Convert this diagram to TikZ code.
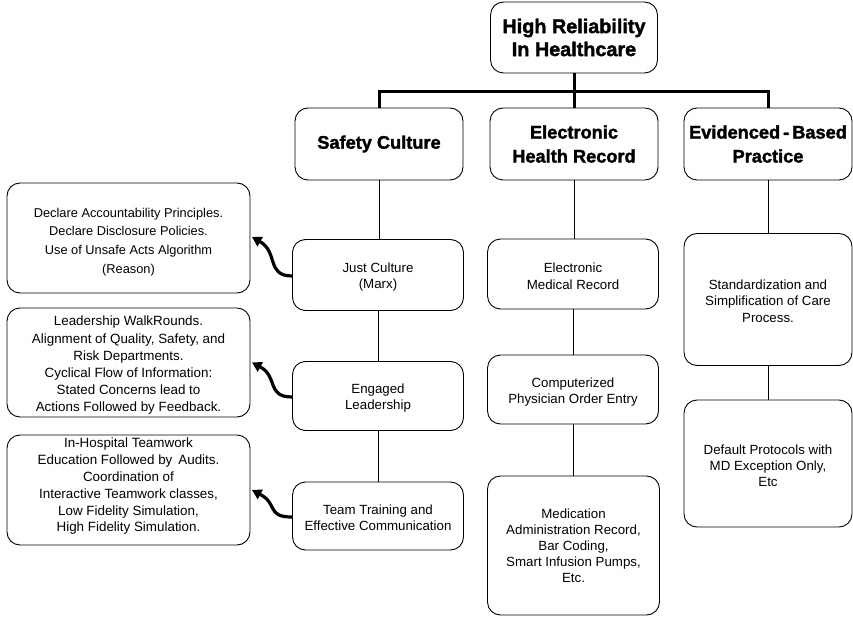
\documentclass[tikz,border=0pt]{standalone}
\usepackage{fontspec}
\setmainfont{Liberation Sans}
\newfontfamily\headfont{Liberation Sans Bold}[FakeBold=1.8]
\usetikzlibrary{arrows.meta,calc}
\begin{document}
\begin{tikzpicture}[x=1pt,y=-1pt,
  box/.style={draw, rounded corners=13pt, line width=0.9pt, inner sep=0pt},
  txt/.style={align=center, inner sep=0pt, font=\fontsize{13.3}{16.5}\selectfont},
  head/.style={box, align=center, font=\fontsize{18.2}{24}\headfont},
  tophead/.style={box, align=center, font=\fontsize{19.8}{23}\headfont},
  tree/.style={line width=3pt},
  link/.style={line width=0.8pt},
  curv/.style={line width=3.2pt, -{Triangle[length=9.5pt,width=10.5pt]}}]
\useasboundingbox (0,0) rectangle (853,617);
% top
\node[tophead, minimum width=167pt, minimum height=71pt] (top) at (574,37.5) {High Reliability\\In Healthcare};
% headings
\node[head, minimum width=168pt, minimum height=72pt] (sc) at (379,144) {Safety Culture};
\node[head, minimum width=168pt, minimum height=72pt] (ehr) at (574,144) {Electronic\\Health Record};
\node[head, minimum width=168pt, minimum height=72pt] (ebp) at (768,144) {Evidenced\,-\,Based\\Practice};
% safety column boxes
\node[box, minimum width=171pt, minimum height=71pt] (jc) at (378,275) {};
\node[box, minimum width=171pt, minimum height=69pt] (el) at (378,396) {};
\node[box, minimum width=171pt, minimum height=68pt] (tt) at (378,516) {};
% left column boxes
\node[box, minimum width=243pt, minimum height=110pt] (l1) at (128.5,238) {};
\node[box, minimum width=243pt, minimum height=109pt] (l2) at (128.5,362.5) {};
\node[box, minimum width=243pt, minimum height=110pt] (l3) at (128.5,490) {};
% EHR column boxes
\node[box, minimum width=171pt, minimum height=70pt] (emr) at (573,274) {};
\node[box, minimum width=171pt, minimum height=69pt] (cpoe) at (573,389.5) {};
\node[box, minimum width=172pt, minimum height=139pt] (med) at (573.5,545.5) {};
% EBP column boxes
\node[box, minimum width=168pt, minimum height=132pt] (std) at (768,299.5) {};
\node[box, minimum width=168pt, minimum height=127pt] (dp) at (768,463.5) {};
% texts
\node[txt] (jct) at (378,277) {Just Culture\\(Marx)};
\node[txt, font=\fontsize{13.3}{16}\selectfont] (elt) at (378,398) {Engaged\\Leadership};
\node[txt, font=\fontsize{13.3}{15.8}\selectfont] (ttt) at (378,518) {Team Training and\\Effective Communication};
\node[txt, font=\fontsize{12.8}{18.8}\selectfont] (l1t) at (128.5,242) {Declare Accountability Principles.\\Declare Disclosure Policies.\\Use of Unsafe Acts Algorithm\\(Reason)};
\node[txt, font=\fontsize{13.4}{17.2}\selectfont] (l2t) at (128.5,365.5) {Leadership WalkRounds.\\Alignment of Quality, Safety, and\\Risk Departments.\\Cyclical Flow of Information:\\Stated Concerns lead to\\Actions Followed by Feedback.};
\node[txt, font=\fontsize{13.4}{16.8}\selectfont] (l3t) at (128.5,486.5) {In-Hospital Teamwork\\Education Followed by\, Audits.\\Coordination of\\Interactive Teamwork classes,\\Low Fidelity Simulation,\\High Fidelity Simulation.};
\node[txt, font=\fontsize{13.3}{16.7}\selectfont] (emrt) at (573,276) {Electronic\\Medical Record};
\node[txt, font=\fontsize{13.3}{15.5}\selectfont] (cpoet) at (573,392) {Computerized\\Physician Order Entry};
\node[txt, font=\fontsize{13.3}{16}\selectfont] (medt) at (573.5,546) {Medication\\Administration Record,\\Bar Coding,\\Smart Infusion Pumps,\\Etc.};
\node[txt, font=\fontsize{13.3}{16.7}\selectfont] (stdt) at (768,301) {Standardization and\\Simplification of Care\\Process.};
\node[txt, font=\fontsize{13.3}{16}\selectfont] (dpt) at (768,466) {Default Protocols with\\MD Exception Only,\\Etc};
% tree
\coordinate (bus) at (0,92);
\draw[tree] (top.south) -- (top.south |- bus);
\draw[tree] (sc.north) -- (sc.north |- bus) -- (ebp.north |- bus) -- (ebp.north);
\draw[tree] (ehr.north) -- (ehr.north |- bus);
% thin links
\draw[link] (sc.south) -- (sc.south |- jc.north);
\draw[link] (jc.south) -- (jc.south |- el.north);
\draw[link] (el.south) -- (el.south |- tt.north);
\draw[link] (ehr.south) -- (ehr.south |- emr.north);
\draw[link] (emr.south) -- (emr.south |- cpoe.north);
\draw[link] (cpoe.south) -- (cpoe.south |- med.north);
\draw[link] (ebp.south) -- (ebp.south |- std.north);
\draw[link] (std.south) -- (std.south |- dp.north);
% curved arrows
\draw[curv] ($(jc.west)+(0,1)$) .. controls ($(jc.west)+(-26,1)$) and ($(l1.east)+(28,14)$) .. ($(l1.east)+(1.5,-1)$);
\draw[curv] ($(el.west)+(0,1)$) .. controls ($(el.west)+(-26,1)$) and ($(l2.east)+(28,14)$) .. ($(l2.east)+(1.5,0)$);
\draw[curv] ($(tt.west)+(0,1)$) .. controls ($(tt.west)+(-26,1)$) and ($(l3.east)+(28,14)$) .. ($(l3.east)+(1.5,0)$);
\end{tikzpicture}
\end{document}
